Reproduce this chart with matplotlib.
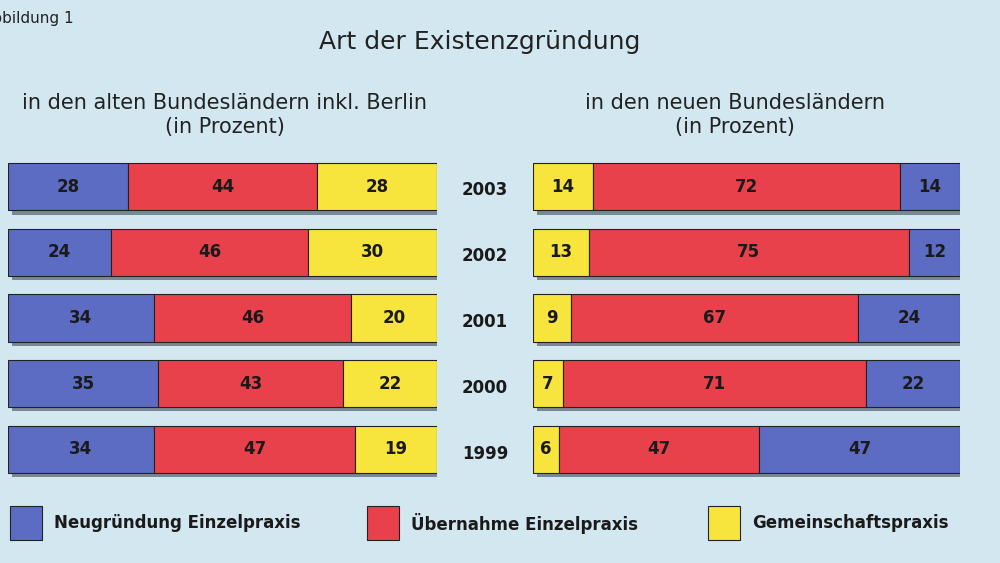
import numpy as np
import matplotlib.pyplot as plt
import matplotlib.patheffects as pe

years = ['2003', '2002', '2001', '2000', '1999']
west_neu = [28, 24, 34, 35, 34]
west_ueb = [44, 46, 46, 43, 47]
west_gem = [28, 30, 20, 22, 19]
ost_gem = [14, 13, 9, 7, 6]
ost_ueb = [72, 75, 67, 71, 47]
ost_neu = [14, 12, 24, 22, 47]

c_blue = '#5b6cc2'
c_red = '#e8414b'
c_yel = '#f7e43c'
bg = '#d3e7f1'

fig = plt.figure(figsize=(10, 5.63), dpi=100)
fig.patch.set_facecolor(bg)

shadow = [pe.SimplePatchShadow(offset=(3, -3), shadow_rgbFace='#556070', alpha=0.7), pe.Normal()]

def panel(left, width, series, colors):
    ax = fig.add_axes([left, 1 - 482 / 563, width, 328 / 563])
    ax.set_xlim(0, 100)
    ax.set_ylim(4.5, -0.5)
    ax.axis('off')
    y = np.arange(len(years))
    start = np.zeros(len(years))
    for vals, col in zip(series, colors):
        vals = np.array(vals)
        bars = ax.barh(y, vals, left=start, height=0.72, color=col, edgecolor='#222222', linewidth=0.8)
        for b in bars:
            b.set_path_effects(shadow)
        for yi, s, v in zip(y, start, vals):
            ax.text(s + v / 2, yi, str(v), ha='center', va='center', fontsize=12,
                    fontweight='bold', color='#1a1a1a')
        start = start + vals
    return ax

panel(0.008, 0.429, [west_neu, west_ueb, west_gem], [c_blue, c_red, c_yel])
panel(0.533, 0.427, [ost_gem, ost_ueb, ost_neu], [c_yel, c_red, c_blue])

for i, yr in enumerate(years):
    fig.text(0.485, 1 - (190 + 66 * i) / 563, yr, ha='center', va='center',
             fontsize=12, fontweight='bold', color='#1a1a1a')

fig.text(-0.018, 1 - 18 / 563, 'Abbildung 1', fontsize=11, va='center', color='#222222')
fig.text(0.48, 1 - 42 / 563, 'Art der Existenzgründung', fontsize=18, ha='center', va='center', color='#222222')
fig.text(0.225, 1 - 115 / 563, 'in den alten Bundesländern inkl. Berlin\n(in Prozent)', fontsize=15,
         ha='center', va='center', color='#222222', linespacing=1.25)
fig.text(0.735, 1 - 115 / 563, 'in den neuen Bundesländern\n(in Prozent)', fontsize=15,
         ha='center', va='center', color='#222222', linespacing=1.25)

legend = [('Neugründung Einzelpraxis', c_blue, 0.010), ('Übernahme Einzelpraxis', c_red, 0.367),
          ('Gemeinschaftspraxis', c_yel, 0.708)]
for lab, col, x in legend:
    r = plt.Rectangle((x, 1 - 540 / 563), 0.032, 34 / 563, transform=fig.transFigure,
                      facecolor=col, edgecolor='#222222', linewidth=0.8)
    fig.patches.append(r)
    fig.text(x + 0.044, 1 - 523 / 563, lab, fontsize=12, fontweight='bold', va='center', color='#1a1a1a')

fig.savefig('out.png', dpi=100, facecolor=bg)
